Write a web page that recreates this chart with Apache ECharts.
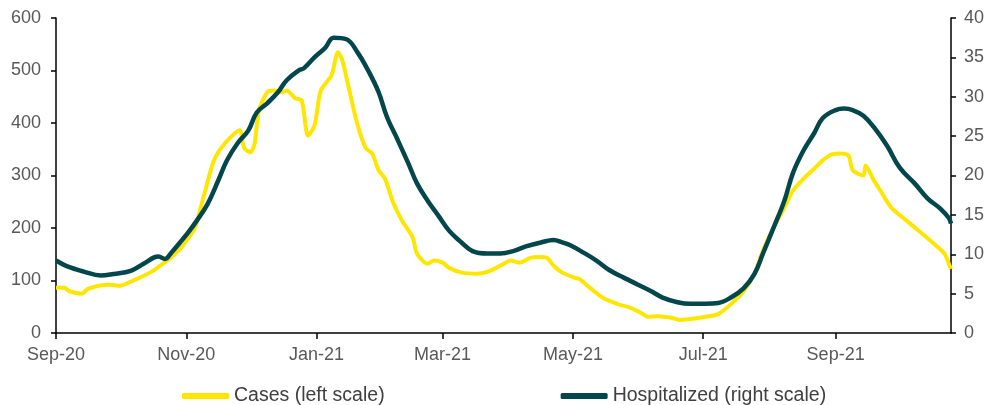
<!DOCTYPE html>
<html>
<head>
<meta charset="utf-8">
<script src="https://cdn.jsdelivr.net/npm/echarts@6/dist/echarts.min.js"></script>
<style>html,body{margin:0;padding:0;background:#fff}#c{width:987px;height:405px}</style>
</head>
<body>
<div id="c"></div>
<script>
// Days counted from the start date
const startDate = '2020-09-01';
const tickDates = ['2020-09-01','2020-11-01','2021-01-01','2021-03-01','2021-05-01','2021-07-01','2021-09-01'];
const tickLabels = ['Sep-20','Nov-20','Jan-21','Mar-21','May-21','Jul-21','Sep-21'];
const endDay = 419;

const casesDays = [0,4,6,12,15,20,25,30,34,39,44,48,53,58,60,65,69,74,79,86,88,91,93,95,99,102,106,108,112,115,118,121,124,129,132,134,137,141,145,148,151,154,158,162,167,169,174,177,181,184,190,197,203,208,213,217,222,226,230,233,237,243,245,250,256,263,269,274,277,282,288,292,298,304,310,316,322,327,331,336,341,345,350,355,359,363,367,371,373,378,379,383,386,391,397,405,411,416,418,419];
const casesValues = [86,86,80,75,84,90,92,90,96,105,115,126,141,160,170,200,258,329,361,386,353,344,361,424,459,462,459,462,447,443,376,395,462,491,535,520,468,399,352,342,310,294,247,214,182,151,132,138,134,124,115,113,118,128,138,134,143,145,143,128,115,105,103,86,67,55,48,38,31,32,29,25,27,31,36,55,80,113,157,201,239,271,294,313,329,340,342,338,310,300,319,290,271,239,218,191,170,151,132,122];

const hospDays = [0,5,13,21,27,35,41,46,48,51,54,59,62,66,71,76,80,85,90,94,99,104,108,114,116,121,126,130,136,141,146,151,155,160,165,169,174,179,184,189,195,202,208,214,220,227,233,237,241,247,253,259,266,272,278,284,291,297,304,310,316,322,327,331,336,341,345,350,355,359,365,369,373,378,383,389,395,402,408,414,418,419];
const hospValues = [9.2,8.5,7.8,7.3,7.5,7.9,8.8,9.6,9.7,9.4,10.2,11.8,12.8,14.3,16.4,19.4,21.9,24.1,25.7,28.0,29.2,30.6,32.1,33.4,33.6,35.0,36.2,37.5,37.3,35.7,33.4,30.6,27.4,24.5,21.5,19.0,16.8,14.9,13.0,11.7,10.4,10.1,10.1,10.4,11.0,11.5,11.8,11.5,11.1,10.2,9.2,8.0,7.0,6.2,5.4,4.5,3.9,3.7,3.7,3.8,4.5,5.7,7.5,10.1,13.4,16.8,20.3,23.2,25.4,27.3,28.3,28.5,28.3,27.6,26.1,23.8,21.0,19.0,17.1,15.8,14.6,13.9];

const casesName = 'Cases (left scale)';
const hospName = 'Hospitalized (right scale)';

const DAY = 86400000;
const t0 = Date.parse(startDate + 'T00:00:00Z');
const tickDays = tickDates.map(d => Math.round((Date.parse(d + 'T00:00:00Z') - t0) / DAY));

const yellow = '#FFE600';
const teal = '#03474C';
const font = 'Liberation Sans, Arial, sans-serif';

const chart = echarts.init(document.getElementById('c'), null, {renderer: 'canvas'});
chart.setOption({
  animation: false,
  backgroundColor: '#fff',
  grid: {left: 56, right: 35, top: 18, bottom: 72, containLabel: false},
  legend: {
    left: 177, top: 381,
    itemWidth: 47, itemHeight: 6, itemGap: 176,
    icon: 'roundRect',
    textStyle: {fontFamily: font, fontSize: 19.5, color: '#404040'},
    data: [
      {name: casesName, itemStyle: {color: yellow}},
      {name: hospName, itemStyle: {color: teal}}
    ]
  },
  xAxis: {
    type: 'value', min: 0, max: endDay,
    splitLine: {show: false},
    axisLine: {show: true, lineStyle: {color: '#000', width: 1.5}},
    axisTick: {show: true, customValues: tickDays, length: 6, lineStyle: {color: '#000', width: 1.5}},
    axisLabel: {
      customValues: tickDays, margin: 13,
      fontFamily: font, fontSize: 18, color: '#595959',
      formatter: v => tickLabels[tickDays.indexOf(Math.round(v))] || ''
    }
  },
  yAxis: [
    {
      type: 'value', min: 0, max: 600, interval: 100, position: 'left',
      splitLine: {show: false},
      axisLine: {show: true, lineStyle: {color: '#000', width: 1.5}},
      axisTick: {show: true, length: 5, lineStyle: {color: '#000', width: 1.5}},
      axisLabel: {fontFamily: font, fontSize: 18, color: '#595959', margin: 15}
    },
    {
      type: 'value', min: 0, max: 40, interval: 5, position: 'right',
      splitLine: {show: false},
      axisLine: {show: true, lineStyle: {color: '#000', width: 1.5}},
      axisTick: {show: true, length: 5, lineStyle: {color: '#000', width: 1.5}},
      axisLabel: {fontFamily: font, fontSize: 18, color: '#595959', margin: 13}
    }
  ],
  series: [
    {
      name: casesName, type: 'line', yAxisIndex: 0, showSymbol: false, smooth: 0.25,
      lineStyle: {color: yellow, width: 4},
      itemStyle: {color: yellow},
      data: casesDays.map((d, i) => [d, casesValues[i]])
    },
    {
      name: hospName, type: 'line', yAxisIndex: 1, showSymbol: false, smooth: 0.4,
      lineStyle: {color: teal, width: 4.5},
      itemStyle: {color: teal},
      data: hospDays.map((d, i) => [d, hospValues[i]])
    }
  ]
});
</script>
</body>
</html>
